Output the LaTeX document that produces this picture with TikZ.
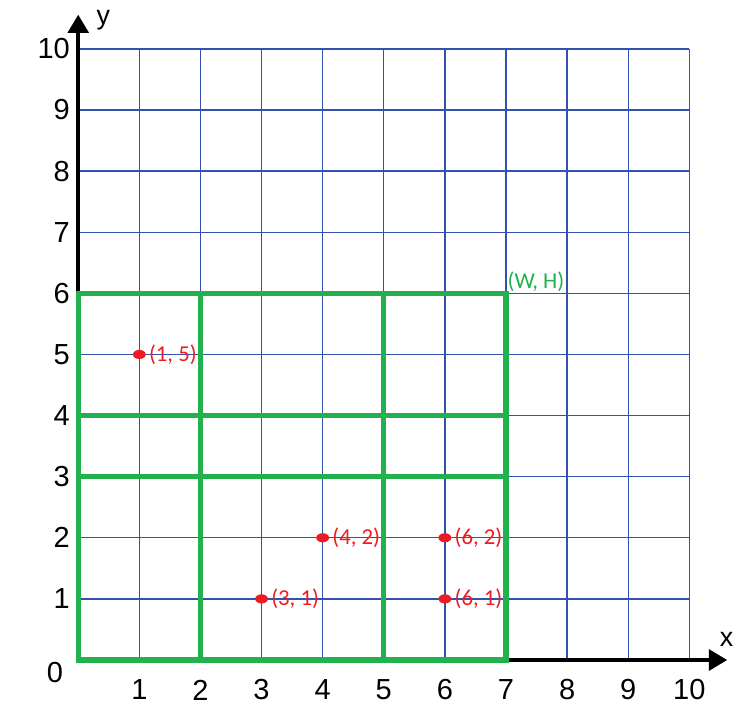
\documentclass[tikz,border=0pt]{standalone}
\usepackage{fontspec}
\setmainfont{Liberation Sans}
\newfontfamily\calibri{Carlito}
\usetikzlibrary{positioning, arrows.meta, shapes.geometric}
\definecolor{gridblue}{RGB}{47,84,170}
\definecolor{paintgreen}{RGB}{34,177,76}
\definecolor{dotred}{RGB}{237,28,36}
\tikzset{
gridline/.style={
  gridblue, 
  line width=0.6pt
  }, 
axis/.style={line width=1.7pt, -{Triangle[width=0.34cm,length=0.3cm]}},
box/.style={paintgreen, line width=2.5pt},
tick/.style={font=\fontsize{13.5}{16}\selectfont, inner sep=0pt},
axislabel/.style={font=\fontsize{12.5}{15}\selectfont, inner sep=0pt},
pt/.style={
  ellipse, 
  fill=dotred, 
  minimum width=0.21cm, 
  minimum height=0.15cm, 
  inner sep=0pt
  },
ptlabel/.style={dotred, font=\calibri\fontsize{10.6}{12}\selectfont, inner sep=0pt},
boxlabel/.style={paintgreen, font=\calibri\fontsize{10.6}{12}\selectfont, inner sep=0pt}
}

\begin{document}
\begin{tikzpicture}
\useasboundingbox (-1.28,-1.03) rectangle (10.96,10.80);

% grid
\foreach \i in {1,...,10} {
  \draw[gridline] (\i,0) -- (\i,10);
  \draw[gridline] (0,\i) -- (10,\i);
}

% axes
\coordinate		(o)		at (0,0);
\coordinate		(xend)	at (10.62,0);
\coordinate		(yend)	at (0,10.56);
\draw[axis]		(o)		--	(xend);
\draw[axis]		(o)		--	(yend);
\node[axislabel]	(xlab)	at (10.61,0.33)		{x};
\node[axislabel]	(ylab)	at (0.41,10.47)		{y};

% ticks
\node[tick]		(zero)	at (-0.38,-0.2)		{0};
\foreach \i in {1,...,10} {
  \node[tick]					(x\i)	at (\i,-0.49)		{\i};
  \node[tick, anchor=east]		(y\i)	at (-0.13,\i)		{\i};
}

% partition
\draw[box]		(0,0) rectangle (7,6);
\draw[box]		(0,3) -- (7,3);
\draw[box]		(0,4) -- (7,4);
\draw[box]		(2,0) -- (2,6);
\draw[box]		(5,0) -- (5,6);
\node[boxlabel, anchor=west]	(wh)	at (7.02,6.19)	{(W, H)};

% points
\node[pt]	(p15)	at (1,5)	{};
\node[pt]	(p31)	at (3,1)	{};
\node[pt]	(p42)	at (4,2)	{};
\node[pt]	(p62)	at (6,2)	{};
\node[pt]	(p61)	at (6,1)	{};
\node[ptlabel]	(l15)	[right=0.04cm of p15]	{(1, 5)};
\node[ptlabel]	(l31)	[right=0.04cm of p31]	{(3, 1)};
\node[ptlabel]	(l42)	[right=0.04cm of p42]	{(4, 2)};
\node[ptlabel]	(l62)	[right=0.04cm of p62]	{(6, 2)};
\node[ptlabel]	(l61)	[right=0.04cm of p61]	{(6, 1)};
\end{tikzpicture}
\end{document}
